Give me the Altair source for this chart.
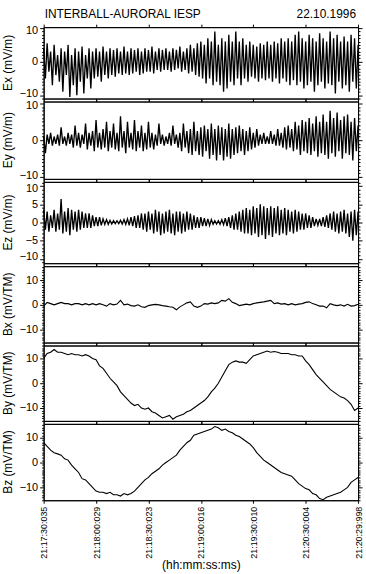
import math
import altair as alt
import pandas as pd

TITLE = "INTERBALL-AURORAL IESP"
DATE = "22.10.1996"
TIME_LABELS = ["21:17:30:035", "21:18:00:029", "21:18:30:023", "21:19:00:016",
               "21:19:30:010", "21:20:30:004", "21:20:29:998"]
TIME_TICKS = [0, 30, 60, 90, 120, 150, 180]
X_TITLE = "(hh:mm:ss:ms)"

# electric field components, one value per second (0..180 s)
EX = [4, -5, 5.5, -3, 3, -7, 5, -4, 2, -6,
      4, -9, 3, -4, 5, -10.5, 2, -7, 4, -10,
      3, -6, 4.5, -9.5, 2, -5, 4, -8, 3, -5,
      4, -4.5, 3, -6, 4.5, -4, 3, -5, 4, -4,
      3.5, -4.5, 4, -3.5, 3, -4, 4.5, -3.5, 3, -4,
      4, -3.5, 3.5, -3, 4, -4, 3, -3.5, 4, -3,
      3.5, -3, 4.5, -3.5, 3, -2.5, 4, -3, 3.5, -2.5,
      4, -2.5, 3, -3, 4, -2.5, 3.5, -2, 4.5, -3,
      3, -2.5, 4, -3.5, 5, -3, 4, -4, 5.5, -4.5,
      6, -5, 5, -6.5, 7, -5, 6, -7, 9, -6,
      5, -7, 7, -9, 6, -8, 8, -6, 6, -7,
      9, -5, 6, -7, 7, -5, 5, -6, 6, -4.5,
      5, -5, 4.5, -6, 5.5, -5, 5, -5.5, 6, -5,
      5, -6, 6, -5, 5.5, -6.5, 7, -5, 6, -6,
      7, -7, 6, -5.5, 8, -7, 9, -6, 7, -8,
      6, -7, 8, -6, 7, -9, 6, -7, 8.5, -6,
      7, -8, 6, -6.5, 9, -7, 7, -9.5, 8, -6,
      6, -8, 7.5, -7, 6, -9, 8, -6, 7, -8,
      5]
EY = [1, -3.5, 1.5, -1, 2, -1.5, 1, -1, 1.5, -1.5,
      3.5, -1, 1, -1.5, 2, -1, 1.5, -2, 4, -1.5,
      2, -2, 1.5, -1, 4.5, -2.5, 2, -1.5, 2.5, -3,
      5.5, -2, 2, -2.5, 3, -2, 5, -3, 2.5, -2,
      4.5, -2.5, 2, -3, 6.5, -2, 2.5, -3.5, 5, -2,
      2, -2.5, 5.5, -3, 2.5, -2, 4, -3, 2, -2.5,
      5, -2, 2, -2.5, 1.5, -1.5, 4.5, -1, 1.5, -1.5,
      1, -1, 2, -1.5, 4, -1, 1.5, -2, 2, -3,
      4.5, -2, 2.5, -3.5, 3, -4, 5, -3, 2.5, -4,
      3.5, -4.5, 4, -3, 3, -5, 4.5, -4, 3, -5.5,
      4, -4, 3.5, -5.5, 3, -4.5, 4.5, -5, 3, -4,
      3.5, -3.5, 4, -3, 3, -4, 2.5, -3, 3.5, -2.5,
      2, -2, 3, -1.5, 1.5, -1, 2, -1, 1, -1,
      2.5, -1, 1.5, -1.5, 3, -1.5, 2, -2, 3.5, -2.5,
      4, -2, 3, -3, 5, -2.5, 4, -4, 5.5, -3,
      5, -3.5, 6, -4, 4.5, -3, 6.5, -4.5, 5, -3.5,
      7, -4, 5, -5, 8, -3.5, 6, -4.5, 7.5, -3,
      5.5, -5, 6.5, -3.5, 7, -4, 5, -5.5, 6, -3,
      4]
EZ = [3.5, -2, 3, -2.5, 2, -1.5, 3.5, -2.5, 2.5, -2,
      6.5, -3, 3, -2.5, 4, -3.5, 3.5, -2, 3, -2.5,
      3.5, -2, 3, -1.5, 2.5, -1.5, 2.5, -1.5, 2, -1,
      1.5, -1, 1.5, -0.8, 1, -0.5, 0.8, -0.5, 0.6, -0.4,
      0.5, -0.3, 0.5, -0.3, 0.6, -0.4, 0.8, -0.5, 1, -0.8,
      1.5, -1, 1.8, -1.5, 2, -1.5, 2.5, -2, 2.5, -2.5,
      3, -2, 2.5, -3, 3.5, -2.5, 3, -3.5, 2.5, -3,
      3, -2.5, 3.5, -3, 2.5, -3.5, 3, -2.5, 3, -3,
      2.5, -2.5, 3, -2, 2.5, -2, 2, -1.5, 1.5, -1.5,
      1.5, -1, 1.2, -1, 1, -0.8, 0.8, -0.5, 0.5, -0.4,
      0.5, -0.5, 0.8, -0.6, 1.2, -1, 1.5, -1.5, 2, -2,
      2.5, -2, 3, -2.5, 3.5, -3, 4, -3, 3.5, -3.5,
      4.5, -3, 4, -4, 5, -3.5, 4.5, -4.5, 4, -3.5,
      4.5, -4, 4, -3, 4.5, -3.5, 3.5, -3, 4, -3.5,
      3.5, -2.5, 3, -3, 3.5, -2.5, 3, -2, 2.5, -2,
      2.5, -1.5, 2, -1.5, 1.5, -1, 1, -0.8, 1, -1,
      1.5, -1.2, 2, -1.5, 2.5, -2, 3, -2.5, 2.5, -3,
      3, -2.5, 3.5, -3, 2.5, -4, 3, -5, 3.5, -3.5,
      3]

# magnetic field components, one value per 2 s (0..180 s)
BX = [-0.5, 1, 0.5, 0, 0.5, 1, 0.5, 0.5, 0, 0.5,
      0.5, 0, 0.5, 0, 0.5, 0, 0.5, 0, -0.5, 0.5,
      0, 0.3, 1.8, 0, 0.3, -0.3, -0.5, 0, -0.8, -1,
      -0.3, 0, 0.2, 0, -0.3, -0.5, -0.8, -1, -2, -0.8,
      0, 0.8, 1.2, -0.5, -1, -0.5, 0.5, 0.3, 0.8, 0.5,
      0.8, 1.8, 1.5, 2.5, 1, 0.5, -0.3, 0, 0.3, 0,
      0.5, 0.8, 1, 1.2, 1.5, 1.8, 0.5, 0.8, 0.3, 0.5,
      0, 0.5, 0, 0.3, 0.5, 1, 1.2, 0.5, 0, -0.5,
      -0.5, -1.2, 0.5, 0, -0.3, 0, -0.5, 0.2, -0.5, -0.3,
      0.2]
BY = [10, 12, 12.5, 13.6, 12.5, 12.5, 12, 11.5, 12, 11.5,
      11.5, 11, 11.5, 11, 10, 9.5, 7, 6, 4, 2,
      0.5, -1, -3.5, -5, -6.5, -8, -9, -8.5, -10, -10.5,
      -10, -11.5, -12, -13, -14, -13.5, -13, -14.5, -13.5, -13,
      -12.5, -11.5, -11, -10, -9, -8, -7, -5.5, -3.5, -2,
      0, 2.5, 5, 7.5, 8.5, 9, 8.5, 8.5, 8, 9.5,
      11, 11.5, 12, 12.5, 13, 12.5, 12.8, 12.5, 12, 12,
      12, 11.5, 11.5, 11, 11, 9, 7.5, 5.5, 3.5, 2,
      0.5, -1, -2.5, -3.5, -4.5, -5.5, -6, -7, -8.5, -11,
      -10]
BZ = [8, 6.5, 5, 4, 3.5, 3, 1.5, 1, -1, -2.5,
      -4, -6.5, -7, -8.5, -10, -11.5, -12, -12, -12.5, -12,
      -13, -13, -13.5, -12.5, -13, -12.5, -11.5, -10, -8.5, -7,
      -6, -4.5, -3.5, -2.5, -1, 0, 1, 2, 3, 5,
      6.5, 8, 9, 11, 11.5, 12, 12.5, 13, 13.5, 14.5,
      14, 13, 13.5, 12.5, 12, 11, 10.5, 9.5, 8.5, 7.5,
      6, 4, 2.5, 1, 0, -1, -2, -3, -4, -4.5,
      -5, -5.5, -7, -8.5, -9.5, -10.5, -11, -12.5, -13, -14.5,
      -15, -14, -13.5, -13, -12.5, -12, -11, -10, -8, -7,
      -6]

FONT = "Liberation Sans"
W = 317

label_js = "[" + ",".join("'" + s + "'" for s in TIME_LABELS) + "]"


def make_df(values, step):
    return pd.DataFrame({"t": [i * step for i in range(len(values))], "v": values})


def panel(values, step, title, domain, height, major, sw, last=False, header=False,
          nudge=False):
    df = make_df(values, step)
    lo, hi = domain
    yticks = list(range(math.ceil(lo), math.floor(hi) + 1))
    tsize = {"condition": {"test": f"datum.value % {major} === 0", "value": 4}, "value": 2}
    lab = f"datum.value % {major} === 0 ? datum.label : ''"
    yscale = alt.Scale(domain=[lo, hi], nice=False, zero=False)
    xscale = alt.Scale(domain=[0, 180], nice=False, zero=False)

    if last:
        xb = alt.Axis(orient="bottom", values=TIME_TICKS, tickSize=3, labelAngle=-90,
                      labelFontSize=9, labelExpr=f"{label_js}[round(datum.value / 30)]",
                      labelOverlap=False, labelFlush=False, labelPadding=3,
                      title=X_TITLE, titleFontSize=12, titleFontWeight="normal",
                      titlePadding=1)
    else:
        xb = alt.Axis(orient="bottom", values=TIME_TICKS, tickSize=3, labels=False, title=None)
    xt = alt.Axis(orient="top", values=TIME_TICKS, tickSize=3, labels=False, title=None)

    ykw = dict(orient="left", values=yticks, tickSize=tsize, labelExpr=lab,
               labelOverlap=False, labelFontSize=11, labelPadding=2, title=None)
    if nudge:
        ykw["labelOffset"] = {"condition": [{"test": "datum.value === 10", "value": 2},
                                            {"test": "datum.value === -10", "value": -2}],
                              "value": 0}
    yl = alt.Axis(**ykw)
    yr = alt.Axis(orient="right", values=yticks, tickSize=tsize, labels=False, title=None)

    base = alt.Chart(df).mark_line(color="black", strokeWidth=sw).encode(
        x=alt.X("t:Q", scale=xscale, axis=xb),
        y=alt.Y("v:Q", scale=yscale, axis=yl),
    )
    ghost = alt.Chart(df).mark_line(opacity=0).encode(
        x=alt.X("t:Q", scale=xscale, axis=xt),
        y=alt.Y("v:Q", scale=yscale, axis=yr),
    )
    ytitle = alt.Chart(pd.DataFrame({"s": [title]})).mark_text(
        align="center", baseline="middle", angle=270, fontSize=12, font=FONT, color="black"
    ).encode(x=alt.value(-36), y=alt.value(height / 2), text="s:N")
    layers = [base, ghost, ytitle]
    if header:
        t1 = alt.Chart(pd.DataFrame({"s": [TITLE]})).mark_text(
            align="left", baseline="alphabetic", fontSize=12, font=FONT, color="black"
        ).encode(x=alt.value(1), y=alt.value(-9), text="s:N")
        t2 = alt.Chart(pd.DataFrame({"s": [DATE]})).mark_text(
            align="right", baseline="alphabetic", fontSize=12, font=FONT, color="black"
        ).encode(x=alt.value(W - 2), y=alt.value(-9), text="s:N")
        layers += [t1, t2]
    return alt.layer(*layers).resolve_axis(x="independent", y="independent").properties(
        width=W, height=height)


panels = [
    panel(EX, 1, "Ex (mV/m)", (-11, 10.3), 72, 10, 1.35, header=True, nudge=True),
    panel(EY, 1, "Ey (mV/m)", (-10.5, 10.5), 78, 10, 1.35, nudge=True),
    panel(EZ, 1, "Ez (mV/m)", (-11.2, 11.2), 82, 5, 1.35, nudge=True),
    panel(BX, 2, "Bx (mV/TM)", (-15.2, 15.6), 77, 10, 1.1),
    panel(BY, 2, "By (mV/TM)", (-15.2, 15.2), 76, 10, 1.1),
    panel(BZ, 2, "Bz (mV/TM)", (-15.2, 15.6), 77, 10, 1.1, last=True),
]

chart = alt.vconcat(*panels, spacing=3, bounds="flush").configure_view(
    stroke="black", strokeWidth=1
).configure_axis(
    domainColor="black", tickColor="black", labelColor="black", titleColor="black",
    labelFont=FONT, titleFont=FONT, grid=False, domainWidth=1, tickWidth=1
).properties(
    padding={"left": 1, "top": 5, "right": 2, "bottom": 0},
    background="white",
)

chart.save("out.html", embed_options={"renderer": "svg", "actions": False})
